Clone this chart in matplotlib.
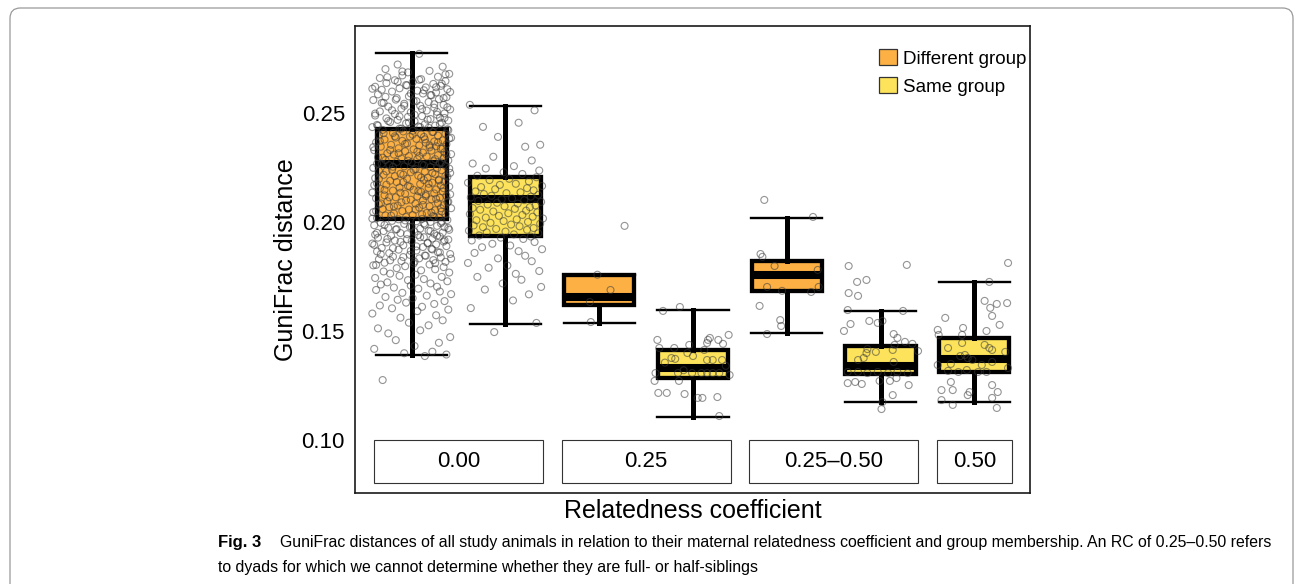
import matplotlib
matplotlib.use('Agg')
import matplotlib.pyplot as plt
from matplotlib.patches import Patch, Rectangle, FancyBboxPatch
import numpy as np

plt.rcParams['font.family'] = ['Liberation Sans', 'DejaVu Sans']

# boxes, left to right
box_rc = ['0.00', '0.00', '0.25', '0.25', '0.25–0.50', '0.25–0.50', '0.50']
box_group = ['Different', 'Same', 'Different', 'Same', 'Different', 'Same', 'Same']
whislo = [0.1390, 0.1534, 0.1538, 0.1107, 0.1489, 0.1176, 0.1176]
q1 = [0.2014, 0.1934, 0.1617, 0.1284, 0.1683, 0.1304, 0.1310]
med = [0.2267, 0.2105, 0.1655, 0.1331, 0.1755, 0.1339, 0.1371]
q3 = [0.2428, 0.2206, 0.1757, 0.1412, 0.1820, 0.1433, 0.1468]
whishi = [0.2774, 0.2532, 0.1757, 0.1596, 0.2020, 0.1593, 0.1726]

rc_labels = ['0.00', '0.25', '0.25–0.50', '0.50']
colors = {'Different': '#fdb144', 'Same': '#fce35b'}

# jittered dyads: values in 1e-4 units, offsets in 1/100 of box spacing
diff00_val = [
    1275, 1385, 1392, 1398, 1405, 1418, 1431, 1446, 1458, 1472, 1489,
    1503, 1512, 1526, 1538, 1549, 1561, 1572, 1580, 1591, 1598,
    1604, 1611, 1617, 1624, 1630, 1637, 1643, 1650, 1656, 1662, 1669, 1675, 1681, 1688, 1694, 1699,
    1703, 1708, 1713, 1718, 1723, 1728, 1733, 1738, 1743, 1748, 1753, 1758, 1763, 1768, 1773, 1778,
    1783, 1788, 1793, 1797,
    1801, 1805, 1809, 1813, 1817, 1821, 1825, 1829, 1833, 1837, 1841, 1845, 1849, 1853, 1857, 1861,
    1865, 1869, 1873, 1877, 1881, 1885, 1889, 1893, 1897,
    1901, 1904, 1906, 1910, 1913, 1915, 1919, 1921, 1924, 1928, 1930, 1933, 1937, 1940, 1942, 1946,
    1949, 1951, 1955, 1958, 1960, 1964, 1967, 1969, 1973, 1976, 1978, 1982, 1985, 1987, 1991, 1994, 1996,
    2000, 2003, 2005, 2009, 2012, 2014, 2018, 2021, 2023, 2027, 2030, 2032, 2036, 2039, 2041, 2045,
    2048, 2050, 2054, 2057, 2059, 2063, 2066, 2068, 2072, 2075, 2077, 2081, 2084, 2086, 2090, 2093, 2095, 2099,
    2102, 2104, 2108, 2111, 2113, 2117, 2120, 2122, 2126, 2129, 2131, 2135, 2138, 2140, 2144, 2147,
    2149, 2153, 2156, 2158, 2162, 2165, 2167, 2171, 2174, 2176, 2180, 2183, 2185, 2189, 2192, 2194, 2198,
    2201, 2203, 2207, 2210, 2212, 2216, 2219, 2221, 2225, 2228, 2230, 2234, 2237, 2239, 2243, 2246,
    2248, 2252, 2255, 2257, 2261, 2264, 2266, 2270, 2273, 2275, 2279, 2282, 2284, 2288, 2291, 2293, 2297,
    2300, 2302, 2306, 2309, 2311, 2315, 2318, 2320, 2324, 2327, 2329, 2333, 2336, 2338, 2342, 2345,
    2347, 2351, 2354, 2356, 2360, 2363, 2365, 2369, 2372, 2374, 2378, 2381, 2383, 2387, 2390, 2392, 2396, 2399,
    2402, 2405, 2408, 2412, 2415, 2418, 2422, 2425, 2428, 2432, 2435, 2438, 2442, 2445, 2448, 2452,
    2455, 2458, 2462, 2465, 2468, 2472, 2475, 2478, 2482, 2485, 2488, 2492, 2495, 2498,
    2503, 2507, 2511, 2516, 2520, 2524, 2529, 2533, 2537, 2542, 2546, 2550, 2555, 2559, 2563, 2568,
    2572, 2576, 2581, 2585, 2589, 2594, 2598,
    2602, 2606, 2609, 2613, 2617, 2620, 2624, 2628, 2633, 2637, 2641, 2646, 2650, 2655, 2660, 2666,
    2672, 2679, 2686, 2693, 2701, 2712, 2722, 2771,
    # second layer of the dense core
    1803, 1811, 1818, 1824, 1832, 1839, 1846, 1852, 1860, 1867, 1874, 1880, 1888, 1895,
    1902, 1909, 1916, 1922, 1930, 1937, 1944, 1950, 1958, 1965, 1972, 1978, 1986, 1993,
    2001, 2007, 2015, 2022, 2029, 2035, 2043, 2050, 2057, 2063, 2071, 2078, 2085, 2091, 2099,
    2106, 2113, 2119, 2127, 2134, 2141, 2147, 2155, 2162, 2169, 2175, 2183, 2190, 2197,
    2204, 2211, 2217, 2225, 2232, 2239, 2245, 2253, 2260, 2267, 2273, 2281, 2288, 2295,
    2302, 2309, 2315, 2323, 2330, 2337, 2343, 2351, 2358, 2365, 2371, 2379, 2386, 2393,
    2400, 2407, 2413, 2421, 2428, 2435, 2441, 2449, 2456, 2463, 2469, 2477, 2484, 2491, 2497,
    2505, 2512, 2518, 2526, 2533, 2540, 2546, 2554, 2561, 2568, 2574, 2582, 2589, 2596,
    2604, 2611, 2618, 2626, 2634, 2643, 2652, 2664, 2677, 2690,
]
diff00_off = [
    -31, 14, 37, -8, 22, -40, 3, 29, -17, 41, -25, 9, -36, 18, -3, 33, -12, 26, -42, 6,
    39, -21, 11, -34, 24, -6, 35, -15, 1, -28, 16, 42, -10, 30, -38, 7, -19, 27, -1, -33,
    20, -26, 38, -4, 13, -39, 32, -13, 4, -23, 40, -30, 10, 25, -16, 34, -7, -41, 19, 2,
    -29, 36, -11, 23, -35, 8, 31, -20, 15, -2, 41, -24, 28, -37, 5, -14, 21, -32, 12, 37,
    -9, 26, -42, 17, -27, 34, 0, -18, 39, -5, 22, -36, 13, 30, -22, 7, -39, 24, -12, 33,
    3, -30, 18, 40, -16, 9, -25, 35, -2, 27, -40, 14, -8, 31, -33, 20, 5, -21, 38, -14,
    11, -37, 29, -6, 23, -28, 1, 36, -19, 16, -41, 32, -10, 25, -3, -31, 42, 8, -24, 19,
    -15, 34, -35, 4, 28, -11, 39, -26, 12, -1, 21, -38, 30, -17, 6, 37, -29, 15, -7, 24,
    -42, 10, 33, -20, 2, 26, -34, 18, -13, 40, -4, 31, -27, 9, -37, 22, -9, 35, -23, 13,
    29, -5, -39, 17, 38, -18, 7, -30, 25, -12, 41, -1, 14, -35, 32, -21, 4, 27, -41, 20,
    -8, 36, -24, 11, -32, 30, 0, -16, 23, 39, -28, 6, -11, 34, -36, 16, -3, 28, -19, 42,
    -26, 12, 35, -7, 21, -40, 2, 31, -14, 19, -33, 26, 8, -22, 37, -5, 15, -38, 24, -10,
    33, -29, 5, 40, -17, 13, -2, 28, -35, 10, 36, -20, 22, -9, 1, -31, 38, -13, 18, -42,
    7, 25, -37, 14, -6, 32, -23, 3, 39, -15, 20, -27, 30, -4, 11, -39, 27, -18, 35, -1,
    -34, 16, 41, -11, 24, -25, 9, 34, -8, -30, 18, 2, -41, 29, -16, 37, -3, 21, -36, 12,
    26, -21, 6, -32, 38, -13, 15, -39, 31, -6, 23, -27, 1, 36, -18, 10, -34, 28, -10, 40,
    -4, 19, -28, 33, -15, 8, -38, 25, 3, -23, 42, -9, 14, -33, 30, -1, 22, -20, 5, -40,
    17, -12, 35, -26, 9, 27, -5, -37, 20, -17, 39, 0, -29, 13, 32, -7, -42, 24, -22, 11,
    21, -38, 4, 31, -19, 12, -33, 38, -6, 26, -24, 15, 41, -12, 7, -29, 34, -2, -40, 18,
    -16, 29, -35, 10, 36, -9, 22, -27, 2, 40, -20, 13, -37, 32, -4, 25, -31, 8, 37, -14,
    6, -23, 33, -41, 19, -7, 28, -34, 14, 42, -18, 1, -30, 23, 39, -11, 9, -36, 30, -3,
    -25, 17, 35, -13, 3, -39, 27, -21, 11, 38, -8, 24, -32, 5, -17, 34, -28, 20, -1, 41,
    13, -42, 26, -5, 32, -15, 8, -26, 36, -10, 18, -37, 0, 29, -22, 16, 40, -33, 23, -7,
]

same00_val = [
    1495, 1537, 1605, 1640, 1668, 1690, 1702, 1718, 1735, 1748,
    1762, 1775, 1790, 1800, 1812, 1820, 1833, 1845, 1858, 1866,
    1875, 1884, 1892, 1900, 1908, 1915, 1922, 1928, 1933, 1938,
    1943, 1948, 1952, 1956, 1960, 1964, 1968, 1972, 1976, 1980,
    1984, 1988, 1992, 1996, 2000, 2004, 2008, 2012, 2016, 2020,
    2024, 2028, 2032, 2036, 2040, 2044, 2048, 2052, 2056, 2060,
    2064, 2068, 2072, 2076, 2080, 2084, 2088, 2092, 2096, 2100,
    2104, 2108, 2112, 2116, 2120, 2124, 2128, 2132, 2136, 2140,
    2145, 2150, 2155, 2160, 2165, 2170, 2175, 2180, 2186, 2192,
    2198, 2205, 2212, 2220, 2228, 2236, 2245, 2256, 2268, 2282,
    2299, 2345, 2354, 2390, 2436, 2455, 2512, 2537,
]
same00_off = [
    -12, 33, -37, 8, 25, -22, 38, -3, 17, -30, 11, 36, -18, 2, -40, 28, -8, 21, -33, 14,
    39, -25, 5, -14, 31, -36, 19, -5, 27, -28, 9, 35, -20, 0, -39, 23, -10, 30, -24, 15,
    -34, 6, 37, -16, 24, -2, -31, 12, 40, -21, 29, -7, 18, -38, 3, 34, -13, 22, -27, 10,
    -35, 26, -1, 32, -19, 13, -9, 38, -29, 20, -4, 7, -37, 27, -15, 35, -23, 1, 16, -32,
    30, -11, 23, -26, 39, -6, 11, -40, 25, -17, 4, 33, -30, 18, -2, 36, -21, 9, -35, 28,
    -13, 21, 37, -8, -24, 14, 31, -38, 6, 24, -19, 2, 34, -28, 12, -5, 40, -33, 17, -10,
]

# (offset, value) pairs for the smaller groups
diff25_pts = [(27, 1982), (12, 1688), (-10, 1633), (-9, 1541), (-2, 1758)]
same25_pts = [
    (-14, 1610), (-32, 1592), (-38, 1459), (16, 1459), (18, 1468), (27, 1459), (32, 1441),
    (38, 1482), (-4, 1436), (15, 1445), (-36, 1422), (-20, 1422), (-6, 1399), (12, 1413),
    (-23, 1376), (-19, 1372), (15, 1367), (21, 1367), (31, 1367), (-16, 1307), (-1, 1307),
    (9, 1307), (15, 1307), (21, 1307), (28, 1307), (39, 1298), (-40, 1307), (-41, 1271),
    (-15, 1271), (-37, 1216), (-28, 1216), (-9, 1211), (5, 1193), (10, 1193), (26, 1197),
    (28, 1110), (-30, 1355), (35, 1340), (0, 1385), (-10, 1320),
]
diff2550_pts = [
    (-24, 2101), (28, 2023), (-28, 1853), (-26, 1840), (-13, 1798), (33, 1780), (-21, 1702),
    (-5, 1684), (26, 1679), (34, 1702), (-29, 1615), (-7, 1550), (-6, 1523), (-21, 1486),
]
same2550_pts = [
    (-34, 1798), (28, 1803), (-25, 1725), (-15, 1734), (-34, 1674), (-24, 1661), (-35, 1596),
    (24, 1592), (-32, 1532), (-39, 1500), (-12, 1546), (-3, 1537), (2, 1546), (14, 1486),
    (18, 1468), (34, 1441), (40, 1408), (-15, 1399), (-14, 1417), (-5, 1404), (-18, 1376),
    (-24, 1367), (13, 1413), (14, 1358), (15, 1436), (26, 1450), (-35, 1312), (-24, 1312),
    (-14, 1307), (-3, 1312), (8, 1307), (18, 1312), (29, 1307), (-35, 1261), (-27, 1266),
    (-20, 1257), (-1, 1271), (10, 1271), (17, 1284), (30, 1252), (13, 1206), (2, 1174), (1, 1142),
]
same50_pts = [
    (36, 1812), (16, 1725), (11, 1638), (17, 1606), (24, 1624), (35, 1628), (19, 1569),
    (27, 1528), (-31, 1560), (-39, 1505), (-38, 1482), (-12, 1514), (13, 1500), (-13, 1482),
    (-28, 1422), (-13, 1445), (11, 1436), (16, 1422), (19, 1413), (33, 1404), (-39, 1344),
    (-25, 1349), (-15, 1385), (-10, 1390), (-7, 1376), (-2, 1367), (8, 1344), (19, 1358),
    (-28, 1317), (-17, 1312), (-8, 1321), (4, 1312), (13, 1312), (36, 1330), (-25, 1266),
    (-35, 1229), (-23, 1229), (-7, 1206), (-5, 1220), (19, 1252), (25, 1220), (-35, 1183),
    (-23, 1161), (24, 1147), (19, 1193),
]

points = [
    (diff00_off[:len(diff00_val)], diff00_val),
    (same00_off[:len(same00_val)], same00_val),
]
for pts in [diff25_pts, same25_pts, diff2550_pts, same2550_pts, same50_pts]:
    points.append(([p[0] for p in pts], [p[1] for p in pts]))

fig = plt.figure(figsize=(12.95, 5.84), dpi=100)
ax = fig.add_axes([355 / 1295, 1 - 493 / 584, 675 / 1295, 467.3 / 584])

positions = np.arange(len(box_rc))
stats = [dict(whislo=whislo[i], q1=q1[i], med=med[i], q3=q3[i], whishi=whishi[i], fliers=[])
         for i in range(len(box_rc))]
bp = ax.bxp(stats, positions=positions, widths=0.75, capwidths=0.76, patch_artist=True,
            showfliers=False, manage_ticks=False,
            boxprops=dict(edgecolor='black', linewidth=3.1),
            medianprops=dict(color='black', linewidth=5.8, solid_capstyle='butt'),
            whiskerprops=dict(color='black', linewidth=3.6),
            capprops=dict(color='black', linewidth=1.7),
            zorder=2)
for patch, grp in zip(bp['boxes'], box_group):
    patch.set_facecolor(colors[grp])

for pos, (off, val) in zip(positions, points):
    ax.scatter(pos + np.array(off) / 100, np.array(val) / 1e4, s=25, marker='o',
               facecolors='none', edgecolors='#3c3c3c', linewidths=0.8, alpha=0.55, zorder=3)

# relatedness labels inside the panel
for lab in rc_labels:
    idx = [i for i, r in enumerate(box_rc) if r == lab]
    x0, x1 = positions[idx[0]] - 0.4, positions[idx[-1]] + 0.4
    ax.add_patch(Rectangle((x0, 0.0801), x1 - x0, 0.0199, facecolor='white',
                           edgecolor='#333333', linewidth=0.8, zorder=4))
    ax.text((x0 + x1) / 2, 0.09005, lab, ha='center', va='center', fontsize=16, zorder=5)

ax.set_xlim(-0.605, 6.594)
ax.set_ylim(0.0757, 0.2900)
ax.set_xticks([])
ax.set_yticks([0.10, 0.15, 0.20, 0.25])
ax.set_yticklabels(['0.10', '0.15', '0.20', '0.25'])
ax.tick_params(axis='y', length=0, pad=7.2, labelsize=16)
for sp in ax.spines.values():
    sp.set_linewidth(1.2)
    sp.set_color('#1a1a1a')

ax.set_ylabel('GuniFrac distance', fontsize=18)
ax.yaxis.set_label_coords(-0.0844, 0.5)
ax.set_xlabel('Relatedness coefficient', fontsize=18)
ax.xaxis.set_label_coords(0.5, -0.012)

handles = [Patch(facecolor=colors[g], edgecolor='#333333', linewidth=0.9) for g in ['Different', 'Same']]
ax.legend(handles, ['Different group', 'Same group'], loc='upper left',
          bbox_to_anchor=(0.7767, 0.950), frameon=False, fontsize=13.5,
          borderpad=0, borderaxespad=0, handlelength=0.95, handleheight=0.95,
          handletextpad=0.3, labelspacing=0.5)

# caption
cap_font = ['Liberation Sans Narrow', 'Liberation Sans', 'DejaVu Sans']
line1 = ('GuniFrac distances of all study animals in relation to their maternal relatedness '
         'coefficient and group membership. An RC of 0.25–0.50 refers')
line2 = 'to dyads for which we cannot determine whether they are full- or half-siblings'
t1 = fig.text(280 / 1295, 1 - 547 / 584, line1, family=cap_font, fontsize=12, va='baseline')
fig.canvas.draw()
w = t1.get_window_extent(fig.canvas.get_renderer()).width
cap_size = 12 * (1275 - 280) / w
t1.set_fontsize(cap_size)
fig.text(218 / 1295, 1 - 547 / 584, 'Fig. 3', family=cap_font, fontsize=cap_size + 0.5,
         fontweight='bold', va='baseline')
fig.text(218 / 1295, 1 - 572 / 584, line2, family=cap_font, fontsize=cap_size, va='baseline')

frame = FancyBboxPatch((10 / 1295, -0.05), (1293 - 10) / 1295, 1 - 8 / 584 + 0.05,
                       boxstyle='round,pad=0,rounding_size=0.008', mutation_aspect=1295 / 584,
                       transform=fig.transFigure, fill=False, edgecolor='#9a9a9a', linewidth=0.9)
fig.add_artist(frame)

fig.savefig('out.png', dpi=100)
